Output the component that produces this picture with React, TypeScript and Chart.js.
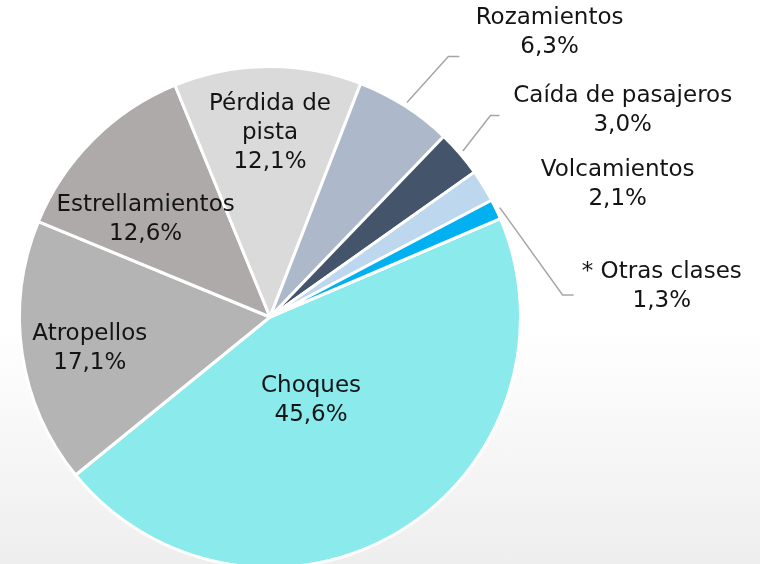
import { useEffect, useRef } from "react";
import { Chart, ArcElement, PieController } from "chart.js";

Chart.register(ArcElement, PieController);

const categories = [
  "Choques",
  "Atropellos",
  "Estrellamientos",
  "Pérdida de pista",
  "Rozamientos",
  "Caída de pasajeros",
  "Volcamientos",
  "* Otras clases",
];
const shares = [45.6, 17.1, 12.6, 12.1, 6.3, 3.0, 2.1, 1.3];
const sliceColors = [
  "#8AEAEC",
  "#B4B4B4",
  "#AEAAAA",
  "#DADADA",
  "#ADB9CA",
  "#44546A",
  "#BDD7EE",
  "#00B0F0",
];
// how category names wrap in their labels
const categoryLines = [
  ["Choques"],
  ["Atropellos"],
  ["Estrellamientos"],
  ["Pérdida de", "pista"],
  ["Rozamientos"],
  ["Caída de pasajeros"],
  ["Volcamientos"],
  ["* Otras clases"],
];

// label placement: inside labels in polar form (deg, fraction of radius);
// outside labels in radius units relative to the pie centre
const insideLabels = [
  { index: 0, angle: 63.7, frac: 0.37 },
  { index: 1, angle: 170.2, frac: 0.73 },
  { index: 2, angle: 218, frac: 0.63 },
  { index: 3, angle: 270, frac: 0.736 },
];
const outsideLabels = [
  { index: 4, text: [1.116, -1.136], elbow: [0.712, -1.04], end: [0.756, -1.04] },
  { index: 5, text: [1.408, -0.824], elbow: [0.88, -0.804], end: [0.916, -0.804] },
  { index: 6, text: [1.388, -0.528], elbow: null, end: null },
  { index: 7, text: [1.564, -0.12], elbow: [1.168, -0.088], end: [1.212, -0.088] },
];

const FONT = '23px "DejaVu Sans"';
const LINE_H = 29;

const fmt = (v: number) => v.toFixed(1).replace(".", ",") + "%";

const labelPlugin = {
  id: "sliceLabels",
  afterDatasetsDraw(chart: any) {
    const meta = chart.getDatasetMeta(0);
    const arcs = meta.data;
    if (!arcs.length) return;
    const cx = arcs[0].x;
    const cy = arcs[0].y;
    const R = arcs[0].outerRadius;
    const ctx = chart.ctx;
    ctx.save();
    ctx.font = FONT;
    ctx.fillStyle = "#141414";
    ctx.textAlign = "center";
    ctx.textBaseline = "middle";

    const drawBlock = (i: number, x: number, y: number) => {
      const lines = [...categoryLines[i], fmt(shares[i])];
      const top = y - ((lines.length - 1) * LINE_H) / 2;
      lines.forEach((t, k) => ctx.fillText(t, x, top + k * LINE_H));
    };

    insideLabels.forEach((l) => {
      const a = (l.angle * Math.PI) / 180;
      drawBlock(l.index, cx + Math.cos(a) * R * l.frac, cy + Math.sin(a) * R * l.frac);
    });

    outsideLabels.forEach((l) => {
      const arc = arcs[l.index];
      if (l.elbow && l.end) {
        const mid = (arc.startAngle + arc.endAngle) / 2;
        const sx = cx + Math.cos(mid) * (R + 4);
        const sy = cy + Math.sin(mid) * (R + 4);
        ctx.beginPath();
        ctx.strokeStyle = "#A6A6A6";
        ctx.lineWidth = 1.5;
        ctx.moveTo(sx, sy);
        ctx.lineTo(cx + l.elbow[0] * R, cy + l.elbow[1] * R);
        ctx.lineTo(cx + l.end[0] * R, cy + l.end[1] * R);
        ctx.stroke();
      }
      drawBlock(l.index, cx + l.text[0] * R, cy + l.text[1] * R);
    });
    ctx.restore();
  },
};

export default function App() {
  const ref = useRef<HTMLCanvasElement | null>(null);
  useEffect(() => {
    if (!ref.current) return;
    const chart = new Chart(ref.current, {
      type: "pie",
      data: {
        labels: categories,
        datasets: [
          {
            data: shares,
            backgroundColor: sliceColors,
            borderColor: "#FFFFFF",
            borderWidth: 3,
            hoverOffset: 0,
            offset: 0,
          },
        ],
      },
      options: {
        responsive: false,
        animation: false,
        rotation: 66.9,
        layout: { padding: { top: 65, left: 18, right: 238, bottom: -5 } },
        plugins: {
          legend: { display: false },
          tooltip: { enabled: false },
        },
        events: [],
      },
      plugins: [labelPlugin],
    });
    return () => chart.destroy();
  }, []);
  return (
    <div
      style={{
        position: "fixed",
        left: 0,
        top: 0,
        width: 760,
        height: 564,
        overflow: "hidden",
        background: "linear-gradient(to bottom, #FFFFFF 0%, #FFFFFF 58%, #EEEEEE 100%)",
      }}
    >
      <canvas ref={ref} width={760} height={564} style={{ display: "block" }} />
    </div>
  );
}
